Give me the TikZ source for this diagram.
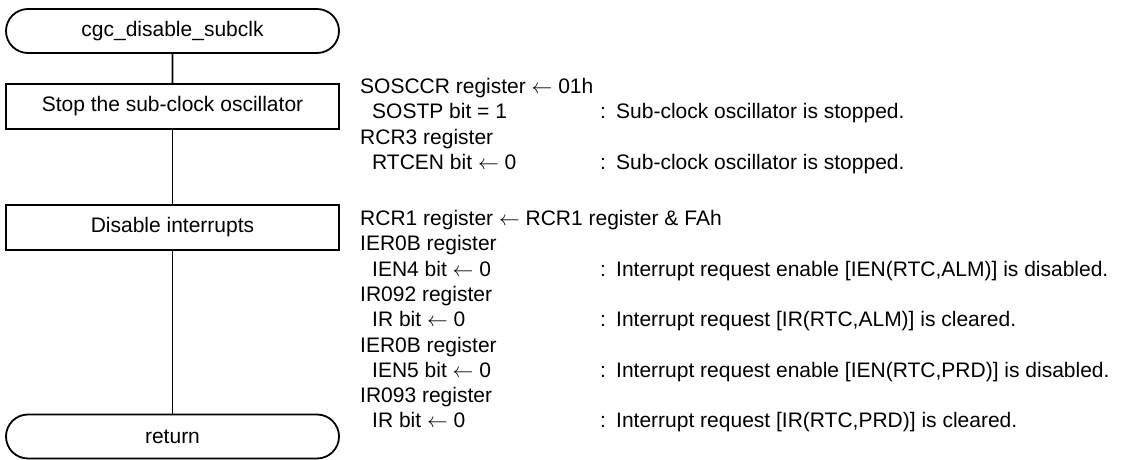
\documentclass[tikz,border=0pt]{standalone}
\usepackage{fontspec}
\setmainfont{Liberation Sans}
\usetikzlibrary{shapes.misc}
\begin{document}
\begin{tikzpicture}[x=1pt,y=-1pt,
  every node/.style={font=\fontsize{21pt}{25pt}\selectfont},
  term/.style={draw, line width=1.8pt, rounded rectangle, minimum width=333pt, minimum height=44pt, inner sep=0pt},
  proc/.style={draw, line width=1.8pt, rectangle, minimum width=333pt, minimum height=45pt, inner sep=0pt},
  conn/.style={line width=1.8pt},
  lbl/.style={anchor=base west, inner sep=0pt}]
\useasboundingbox (0,0) rectangle (1121,460);
% flow
\node[term] (start) at (172.5,31) {cgc\_disable\_subclk};
\node[proc] (s1) at (172.5,106.5) {Stop the sub-clock oscillator};
\node[proc] (s2) at (172.5,227.5) {Disable interrupts};
\node[term] (ret) at (172.5,436.5) {return};
\draw[conn] (start) -- (s1);
\draw[conn] (s1) -- (s2);
\draw[conn] (s2) -- (ret);
% group 1
\node[lbl] (a1) at (360,93.5) {SOSCCR register $\leftarrow$ 01h};
\node[lbl] (a2) at (372,118.8) {SOSTP bit = 1};
\node[lbl] (a2c) at (600,118.8) {:};
\node[lbl] (a2d) at (616,118.8) {Sub-clock oscillator is stopped.};
\node[lbl] (a3) at (360,144.1) {RCR3 register};
\node[lbl] (a4) at (372,169.4) {RTCEN bit $\leftarrow$ 0};
\node[lbl] (a4c) at (600,169.4) {:};
\node[lbl] (a4d) at (616,169.4) {Sub-clock oscillator is stopped.};
% group 2
\node[lbl] (b1) at (360,225.5) {RCR1 register $\leftarrow$ RCR1 register \& FAh};
\node[lbl] (b2) at (360,250.8) {IER0B register};
\node[lbl] (b3) at (372,276.1) {IEN4 bit $\leftarrow$ 0};
\node[lbl] (b3c) at (600,276.1) {:};
\node[lbl] (b3d) at (616,276.1) {Interrupt request enable [IEN(RTC,ALM)] is disabled.};
\node[lbl] (b4) at (360,301.4) {IR092 register};
\node[lbl] (b5) at (372,326.7) {IR bit $\leftarrow$ 0};
\node[lbl] (b5c) at (600,326.7) {:};
\node[lbl] (b5d) at (616,326.7) {Interrupt request [IR(RTC,ALM)] is cleared.};
\node[lbl] (b6) at (360,352) {IER0B register};
\node[lbl] (b7) at (372,377.3) {IEN5 bit $\leftarrow$ 0};
\node[lbl] (b7c) at (600,377.3) {:};
\node[lbl] (b7d) at (616,377.3) {Interrupt request enable [IEN(RTC,PRD)] is disabled.};
\node[lbl] (b8) at (360,402.6) {IR093 register};
\node[lbl] (b9) at (372,427.9) {IR bit $\leftarrow$ 0};
\node[lbl] (b9c) at (600,427.9) {:};
\node[lbl] (b9d) at (616,427.9) {Interrupt request [IR(RTC,PRD)] is cleared.};
\end{tikzpicture}
\end{document}
